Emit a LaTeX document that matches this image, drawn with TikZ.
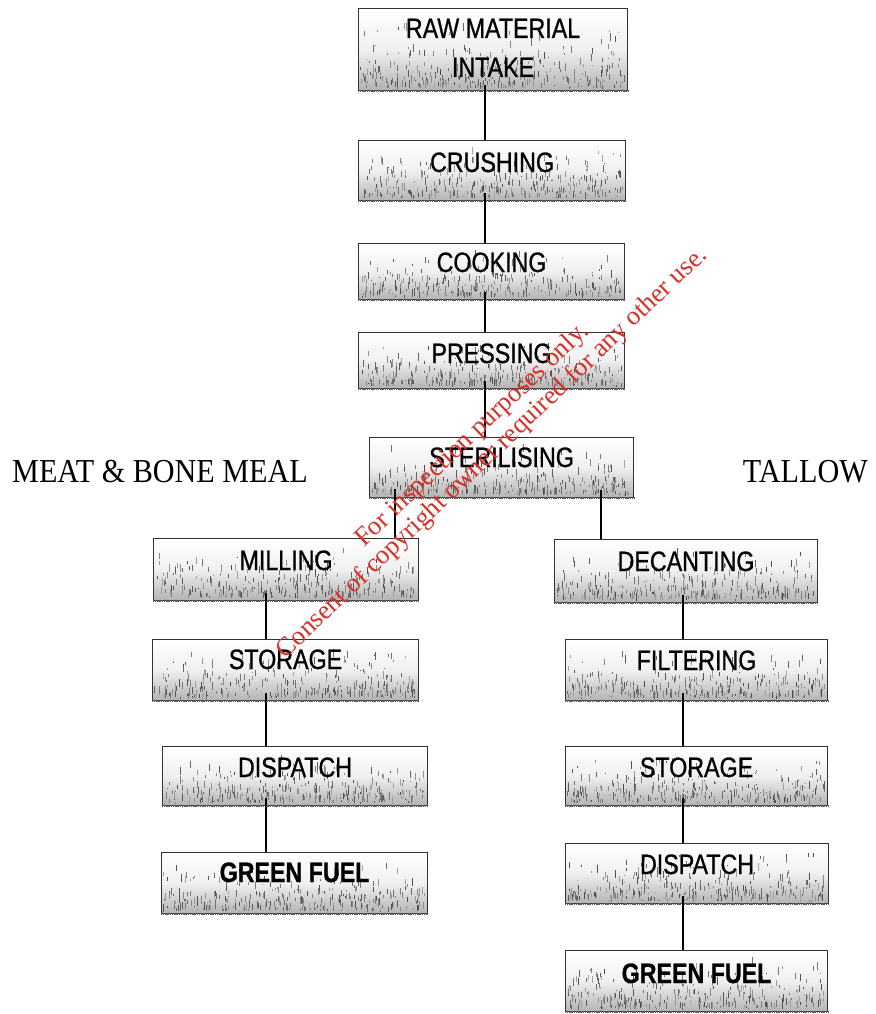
\documentclass[tikz,border=0pt]{standalone}
\usepackage{fontspec}
\newfontfamily\boxfont[FakeStretch=0.83,FakeBold=0.8]{Liberation Sans}
\newfontfamily\labfont[FakeStretch=0.9]{Liberation Serif}
\newfontfamily\wmfont{Liberation Serif}
\definecolor{wmred}{RGB}{214,48,40}
\newcommand{\speckle}[3]{%
  \foreach \k in {1,...,300}{%
    \pgfmathsetmacro{\rx}{2.5+rnd*(#2-5)}%
    \pgfmathsetmacro{\ry}{2.5+rnd*rnd*(#3*0.78)}%
    \pgfmathsetmacro{\rl}{1+rnd*7}%
    \pgfmathsetmacro{\rg}{35+rnd*35}%
    \draw[speck, draw=black!\rg] ([xshift=\rx pt, yshift=\ry pt]#1.south west) -- ++(0pt,\rl pt);
  }%
}
\begin{document}
\begin{tikzpicture}[x=1pt,y=-1pt,
  procbox/.style={draw=black!80, line width=1.1pt, inner sep=0pt, anchor=north west,
    top color=white, bottom color=black!30, middle color=black!6, shading angle=0},
  speck/.style={line width=0.6pt},
  hatch/.style={draw=black!65, line width=2.6pt, dash pattern=on 1.2pt off 0.6pt},
  boxtext/.style={font=\boxfont\fontsize{28}{28}\selectfont, inner sep=0pt, anchor=base, text=black},
  boldtext/.style={font=\boxfont\bfseries\fontsize{28}{28}\selectfont, inner sep=0pt, anchor=base, text=black},
  lab/.style={font=\labfont\fontsize{33.5}{33.5}\selectfont, inner sep=0pt, text=black},
  conn/.style={draw=black, line width=1.3pt},
  wm/.style={font=\wmfont\fontsize{26.5}{26.5}\selectfont, text=wmred, inner sep=0pt, anchor=base, rotate=43.6}]
\pgfmathsetseed{11}
\useasboundingbox (0,0) rectangle (875,1014);
\fill[white] (0,0) rectangle (875,1014);

% boxes
\node[procbox, minimum width=269pt, minimum height=82pt] (raw) at (358,8) {};
\node[procbox, minimum width=267pt, minimum height=60pt] (crush) at (358,140) {};
\node[procbox, minimum width=266pt, minimum height=56pt] (cook) at (358,243) {};
\node[procbox, minimum width=266pt, minimum height=56pt] (press) at (358,332) {};
\node[procbox, minimum width=264pt, minimum height=60pt] (ster) at (369,437) {};
\node[procbox, minimum width=265pt, minimum height=62pt] (mill) at (153,538) {};
\node[procbox, minimum width=266pt, minimum height=61pt] (stoL) at (152,639) {};
\node[procbox, minimum width=265pt, minimum height=59pt] (disL) at (162,746) {};
\node[procbox, minimum width=266pt, minimum height=61pt] (gfL) at (161,852) {};
\node[procbox, minimum width=263pt, minimum height=63pt] (dec) at (554,539) {};
\node[procbox, minimum width=262pt, minimum height=61pt] (fil) at (565,639) {};
\node[procbox, minimum width=262pt, minimum height=59pt] (stoR) at (565,746) {};
\node[procbox, minimum width=263pt, minimum height=60pt] (disR) at (565,843) {};
\node[procbox, minimum width=262pt, minimum height=61pt] (gfR) at (565,950) {};

% texture
\speckle{raw}{269}{82}
\speckle{crush}{267}{60}
\speckle{cook}{266}{56}
\speckle{press}{266}{56}
\speckle{ster}{264}{60}
\speckle{mill}{265}{62}
\speckle{stoL}{266}{61}
\speckle{disL}{265}{59}
\speckle{gfL}{266}{61}
\speckle{dec}{263}{63}
\speckle{fil}{262}{61}
\speckle{stoR}{262}{59}
\speckle{disR}{263}{60}
\speckle{gfR}{262}{61}

% hatched bottom edges
\foreach \b in {raw,crush,cook,press,ster,mill,stoL,disL,gfL,dec,fil,stoR,disR,gfR}{
  \draw[hatch] (\b.south west) -- (\b.south east);
}

% connector columns
\coordinate (trunk) at (485,0);
\coordinate (lbr) at (395,0);
\coordinate (rbr) at (601,0);
\coordinate (lcol) at (266,0);
\coordinate (rcol) at (683,0);

\draw[conn] (raw.south -| trunk) ++(0,-6) -- (crush.north -| trunk);
\draw[conn] (crush.south -| trunk) ++(0,-8) -- (cook.north -| trunk);
\draw[conn] (cook.south -| trunk) ++(0,-8) -- (press.north -| trunk);
\draw[conn] (press.south -| trunk) ++(0,-8) -- (ster.north -| trunk);
\draw[conn] (ster.south -| lbr) ++(0,-9) -- (mill.north -| lbr);
\draw[conn] (ster.south -| rbr) ++(0,-8) -- (dec.north -| rbr);
\draw[conn] (mill.south -| lcol) ++(0,-8) -- (stoL.north -| lcol);
\draw[conn] (stoL.south -| lcol) ++(0,-8) -- (disL.north -| lcol);
\draw[conn] (disL.south -| lcol) ++(0,-8) -- (gfL.north -| lcol);
\draw[conn] (dec.south -| rcol) ++(0,-8) -- (fil.north -| rcol);
\draw[conn] (fil.south -| rcol) ++(0,-8) -- (stoR.north -| rcol);
\draw[conn] (stoR.south -| rcol) ++(0,-8) -- (disR.north -| rcol);
\draw[conn] (disR.south -| rcol) ++(0,-8) -- (gfR.north -| rcol);

% box texts
\node[boxtext] (raw-t1) at ([yshift=-30pt]raw.north) {RAW MATERIAL};
\node[boxtext] (raw-t2) at ([yshift=-69pt]raw.north) {INTAKE};
\node[boxtext] (crush-t) at ([yshift=-32pt]crush.north) {CRUSHING};
\node[boxtext] (cook-t) at ([yshift=-29pt]cook.north) {COOKING};
\node[boxtext] (press-t) at ([yshift=-31pt]press.north) {PRESSING};
\node[boxtext] (ster-t) at ([yshift=-30pt]ster.north) {STERILISING};
\node[boxtext] (mill-t) at ([yshift=-32pt]mill.north) {MILLING};
\node[boxtext] (stoL-t) at ([yshift=-30pt]stoL.north) {STORAGE};
\node[boxtext] (disL-t) at ([yshift=-31pt]disL.north) {DISPATCH};
\node[boldtext] (gfL-t) at ([yshift=-30pt]gfL.north) {GREEN FUEL};
\node[boxtext] (dec-t) at ([yshift=-32pt]dec.north) {DECANTING};
\node[boxtext] (fil-t) at ([yshift=-31pt]fil.north) {FILTERING};
\node[boxtext] (stoR-t) at ([yshift=-31pt]stoR.north) {STORAGE};
\node[boxtext] (disR-t) at ([yshift=-31pt]disR.north) {DISPATCH};
\node[boldtext] (gfR-t) at ([yshift=-33pt]gfR.north) {GREEN FUEL};

% side labels
\node[lab, anchor=base west] (mbm) at (12,482) {MEAT \& BONE MEAL};
\node[lab, anchor=base east] (tallow) at (868,482) {TALLOW};

% watermark
\node[wm] (wm1) at (477,440) {For inspection purposes only.};
\node[wm] (wm2) at (497,458) {Consent of copyright owner required for any other use.};
\end{tikzpicture}
\end{document}
